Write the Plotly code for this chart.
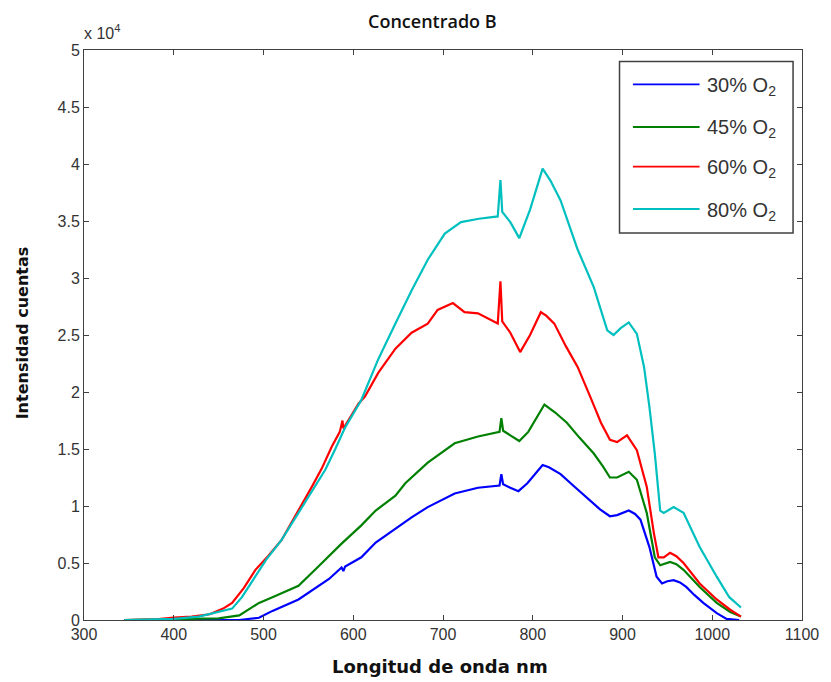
import plotly.graph_objects as go

# ---- data (intensity in counts) ----
wl_30 = [345, 400, 450, 473, 495, 510, 539, 560, 573, 587, 589, 591, 609, 625, 647, 665, 683, 700, 713, 739,
         763, 765, 767, 775, 784, 794, 811, 818, 831, 845, 861, 875, 886, 894, 907, 914, 920, 930, 938, 944,
         950, 957, 964, 971, 980, 990, 1005, 1016, 1030]
int_30 = [0, 0, 0, 0, 200, 800, 1800, 2900, 3600, 4600, 4300, 4700, 5500, 6800, 8000, 9000, 9900, 10600, 11100, 11600,
          11800, 12800, 11900, 11600, 11300, 12000, 13600, 13400, 12800, 11800, 10700, 9700, 9100, 9200, 9600, 9300, 8800, 6400, 3800, 3200,
          3400, 3500, 3300, 2900, 2200, 1500, 600, 100, 0]

wl_45 = [345, 400, 430, 450, 473, 495, 510, 539, 560, 587, 609, 625, 647, 658, 683, 700, 713, 739, 763, 765,
         767, 775, 785, 795, 813, 825, 838, 852, 868, 878, 886, 894, 907, 916, 927, 936, 942, 953, 960, 968,
         986, 1005, 1020, 1032]
int_45 = [0, 50, 100, 150, 400, 1500, 2000, 3000, 4600, 6700, 8300, 9600, 10900, 12000, 13800, 14800, 15500, 16100, 16500, 17700,
          16600, 16200, 15700, 16500, 18900, 18200, 17300, 16000, 14600, 13500, 12500, 12500, 13000, 12300, 9400, 5500, 4800, 5100, 4900, 4400,
          2900, 1500, 700, 300]

wl_60 = [345, 380, 400, 420, 440, 455, 465, 478, 491, 505, 520, 537, 554, 565, 576, 585, 588, 589, 595, 606,
         613, 628, 647, 665, 683, 694, 711, 724, 739, 761, 764, 766, 775, 786, 797, 809, 815, 824, 837, 850,
         864, 876, 886, 894, 905, 916, 927, 935, 940, 946, 953, 960, 968, 986, 1005, 1020, 1032]
int_60 = [0, 50, 200, 300, 500, 1000, 1500, 2800, 4400, 5600, 7000, 9300, 11700, 13300, 15200, 16500, 17500, 16800, 17600, 19000,
          19600, 21700, 23800, 25200, 26000, 27200, 27800, 27000, 26900, 26000, 29700, 26200, 25200, 23500, 25000, 27000, 26700, 26000, 24000, 22200,
          19600, 17300, 15800, 15600, 16200, 14900, 11700, 7600, 5500, 5500, 5900, 5600, 5000, 3200, 1800, 900, 300]

wl_80 = [345, 380, 400, 428, 445, 465, 476, 490, 503, 520, 539, 554, 569, 580, 591, 609, 628, 647, 665, 683,
         702, 720, 740, 761, 764, 766, 775, 785, 797, 811, 820, 831, 850, 868, 883, 890, 898, 907, 916, 924,
         930, 936, 942, 946, 957, 968, 986, 1005, 1019, 1032]
int_80 = [0, 100, 100, 300, 600, 1000, 2000, 3700, 5300, 7000, 9400, 11200, 13200, 15000, 16900, 19300, 22900, 26000, 28900, 31600,
          33900, 34900, 35200, 35400, 38600, 35800, 34900, 33500, 36000, 39600, 38500, 36800, 32500, 29200, 25400, 25000, 25600, 26100, 25100, 22200,
          18700, 14600, 9600, 9400, 9900, 9400, 6400, 3800, 2000, 1100]

series_names = ["30% O<sub>2</sub>", "45% O<sub>2</sub>", "60% O<sub>2</sub>", "80% O<sub>2</sub>"]
series_x = [wl_30, wl_45, wl_60, wl_80]
series_y = [int_30, int_45, int_60, int_80]
colors = ["#0000FF", "#008000", "#FF0000", "#00BFBF"]

y_tickvals = [0, 5000, 10000, 15000, 20000, 25000, 30000, 35000, 40000, 45000, 50000]
y_ticktext = ["0", "0.5", "1", "1.5", "2", "2.5", "3", "3.5", "4", "4.5", "5"]
x_tickvals = [300, 400, 500, 600, 700, 800, 900, 1000, 1100]

# ---- figure (page has an 8px body margin, so work in window pixels minus 8) ----
OFF = 8
W, H = 831 - OFF, 682 - OFF
PL, PR, PT, PB = 84, 806, 50, 620          # plot area in window pixels
L, R, T, B = PL - OFF, W - (PR - OFF), PT - OFF, H - (PB - OFF)
pw, ph = PR - PL, PB - PT

def px(xp):
    return (xp - PL) / pw

def py(yp):
    return (PB - yp) / ph

fig = go.Figure()
for name, xs, ys, c in zip(series_names, series_x, series_y, colors):
    fig.add_trace(go.Scatter(x=xs, y=ys, mode="lines", name=name,
                             line=dict(color=c, width=2.2), showlegend=False))

axis_common = dict(showline=True, linecolor="#404040", linewidth=1, mirror="ticks",
                   ticks="inside", ticklen=5, tickcolor="#404040", showgrid=False, zeroline=False,
                   tickfont=dict(family="Liberation Sans", size=16, color="#333333"))

fig.update_xaxes(range=[300, 1100], tickvals=x_tickvals, **axis_common)
fig.update_yaxes(range=[0, 50000], tickvals=y_tickvals, ticktext=y_ticktext, **axis_common)

annotations = [
    dict(text="Concentrado B", x=px(434), y=py(21), xref="paper", yref="paper", showarrow=False,
         xanchor="center", yanchor="middle",
         font=dict(family="Open Sans", size=18, color="#111111", weight=600)),
    dict(text="<b>Longitud de onda nm</b>", x=px(442), y=py(666), xref="paper", yref="paper", showarrow=False,
         xanchor="center", yanchor="middle",
         font=dict(family="DejaVu Sans", size=18, color="#111111")),
    dict(text="<b>Intensidad cuentas</b>", x=px(22), y=py(333), xref="paper", yref="paper", showarrow=False,
         xanchor="center", yanchor="middle", textangle=-90,
         font=dict(family="DejaVu Sans", size=16, color="#111111")),
    dict(text="x 10<sup>4</sup>", x=px(82), y=py(32), xref="paper", yref="paper", showarrow=False,
         xanchor="left", yanchor="middle",
         font=dict(family="Liberation Sans", size=16, color="#333333")),
]

shapes = [dict(type="rect", xref="paper", yref="paper", x0=px(622.5), x1=px(797), y0=py(233), y1=py(61.5),
               line=dict(color="#404040", width=1.5), fillcolor="white", layer="above")]
leg_y = [84.3, 127, 166.7, 209]
for name, c, yy in zip(series_names, colors, leg_y):
    shapes.append(dict(type="line", xref="paper", yref="paper", x0=px(636), x1=px(703), y0=py(yy), y1=py(yy),
                       line=dict(color=c, width=1.8), layer="above"))
    annotations.append(dict(text=name, x=px(708), y=py(yy + 2), xref="paper", yref="paper", showarrow=False,
                            xanchor="left", yanchor="middle",
                            font=dict(family="Liberation Sans", size=20, color="#333333")))

fig.update_layout(width=W, height=H, margin=dict(l=L, r=R, t=T, b=B),
                  paper_bgcolor="white", plot_bgcolor="white",
                  annotations=annotations, shapes=shapes, showlegend=False)

fig.write_html("out.html")
